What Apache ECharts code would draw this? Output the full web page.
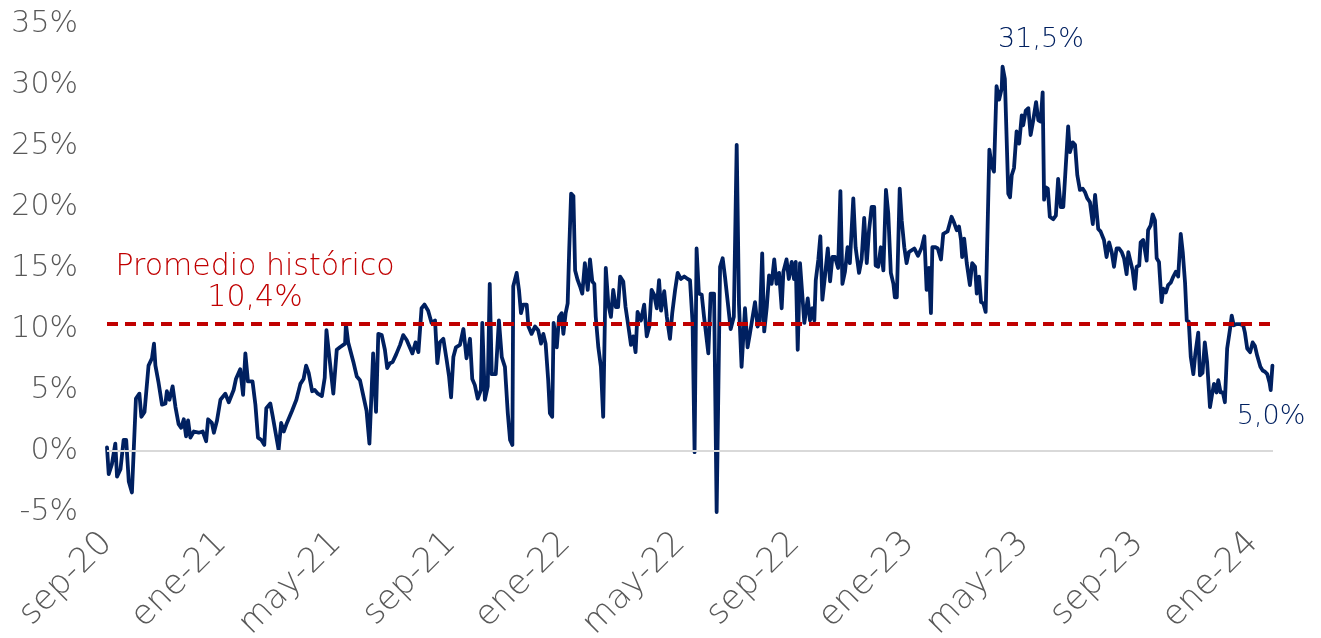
<!DOCTYPE html>
<html><head><meta charset="utf-8">
<script src="https://cdn.jsdelivr.net/npm/echarts@6/dist/echarts.min.js"></script>
<style>html,body{margin:0;padding:0;background:#fff}#c{width:1321px;height:638px}</style>
</head><body><div id="c"></div>
<script>
// x tick labels every 4 months starting sep-20
const tickLabels = ['sep-20','ene-21','may-21','sep-21','ene-22','may-22','sep-22','ene-23','may-23','sep-23','ene-24'];
// time in months since 1-sep-2020
const months = [
0.00,0.06,0.17,0.29,0.35,0.47,0.58,0.67,0.76,0.87,
0.93,1.01,1.13,1.20,1.31,1.45,1.57,1.64,1.69,1.80,
1.92,2.04,2.09,2.18,2.29,2.39,2.50,2.59,2.68,2.76,
2.83,2.91,3.03,3.20,3.34,3.46,3.53,3.66,3.73,3.84,
3.96,4.13,4.25,4.42,4.50,4.65,4.75,4.83,4.92,5.08,
5.18,5.27,5.39,5.49,5.56,5.70,5.78,5.99,6.08,6.17,
6.28,6.46,6.61,6.75,6.86,6.95,7.04,7.16,7.25,7.36,
7.50,7.60,7.66,
7.90,8.02,8.13,8.31,8.34,8.42,8.60,8.72,8.83,9.06,
9.16,9.29,9.39,9.47,9.59,9.70,9.78,9.88,9.97,10.09,
10.23,10.34,10.46,10.66,10.77,10.87,10.98,11.08,11.21,11.33,
11.45,11.53,11.62,11.74,11.86,11.94,12.01,12.09,12.18,12.32,
12.44,12.55,12.67,12.75,12.84,12.94,13.05,13.10,13.19,13.29,
13.36,13.43,13.57,13.68,13.78,13.89,13.99,14.07,14.15,14.18,
14.30,14.38,14.45,14.53,14.65,14.71,14.82,14.94,15.05,15.15,
15.23,15.31,15.40,15.46,15.54,15.59,15.70,15.78,15.87,15.93,
16.01,16.08,16.13,16.20,16.28,16.34,16.43,16.51,16.59,16.68,
16.78,16.86,16.94,17.01,17.06,17.15,17.24,17.32,17.41,17.50,
17.59,17.67,17.76,17.84,17.91,18.02,18.10,18.20,18.29,18.37,
18.45,18.52,18.64,18.75,18.84,18.93,19.01,19.10,19.19,19.27,
19.34,19.45,19.54,19.65,19.73,19.83,19.92,20.03,20.15,20.27,
20.35,20.44,20.51,20.58,20.66,20.76,20.84,20.99,21.07,21.19,
21.28,21.34,21.40,21.49,21.57,21.77,21.88,21.98,22.06,22.15,
22.27,22.36,22.44,22.62,22.71,22.79,22.87,22.94,23.03,23.11,
23.20,23.29,23.37,23.46,23.55,23.61,23.72,23.80,23.90,23.98,
24.04,24.11,24.19,24.34,24.46,24.54,24.62,24.69,24.74,24.83,
24.90,24.97,25.06,25.16,25.24,25.32,25.41,25.52,25.60,25.67,
25.76,25.85,25.93,26.05,26.13,26.25,26.34,26.43,26.52,26.60,
26.69,26.78,26.83,26.92,27.01,27.10,27.19,27.27,27.36,27.45,
27.50,27.57,27.67,27.74,27.83,27.91,27.99,28.18,28.31,28.44,
28.53,28.61,28.69,28.76,28.81,28.92,29.00,29.11,29.19,29.34,
29.48,29.57,29.66,29.74,29.81,29.85,29.92,30.01,30.12,30.20,
30.30,30.36,30.44,30.51,30.59,30.67,30.80,30.88,30.96,31.05,
31.14,31.23,31.26,31.34,31.46,31.52,31.58,31.66,31.75,31.84,
31.93,31.98,32.07,32.16,32.24,32.33,32.43,32.51,32.59,32.66,
32.71,32.77,32.84,32.91,33.03,33.12,33.20,33.29,33.38,33.55,
33.61,33.71,33.79,33.87,33.96,34.06,34.14,34.22,34.31,34.41,
34.49,34.60,34.68,34.80,34.89,34.98,35.07,35.15,35.24,35.33,
35.42,35.50,35.59,35.65,35.73,35.80,35.88,35.94,36.03,36.08,
36.17,36.29,36.34,36.43,36.50,36.58,36.64,36.72,36.81,36.87,
36.96,37.04,37.13,37.22,37.31,37.39,37.48,37.55,37.63,37.69,
37.76,37.83,37.92,37.99,38.09,38.15,38.24,38.32,38.40,38.50,
38.57,38.64,38.73,38.79,38.87,38.95,39.02,39.10,39.20,39.26,
39.33,39.43,39.55,39.66,39.72,39.80,39.90,39.99,40.07,40.15,
40.26,40.34,40.42,40.50,40.58,40.62,40.68
];
// value in %
const values = [
0.3,-1.9,-1.1,0.6,-2.1,-1.5,0.9,0.9,-2.5,-3.4,
-3.5,4.3,4.7,2.8,3.2,7.0,7.6,8.8,7.0,5.6,
3.8,3.9,4.9,4.2,5.3,3.6,2.2,1.9,2.6,1.2,
2.5,1.1,1.6,1.5,1.6,0.8,2.6,2.3,1.5,2.5,
4.2,4.7,4.0,5.0,5.9,6.7,4.6,8.0,5.7,5.7,
3.8,1.1,0.9,0.5,3.5,3.9,2.9,0.1,2.3,1.6,
2.3,3.3,4.2,5.5,5.9,7.0,6.4,4.9,5.0,4.7,
4.5,6.0,9.9,
4.7,8.3,8.5,8.8,10.4,8.9,7.3,6.1,5.8,3.3,
0.6,8.0,3.2,9.6,9.5,8.3,6.8,7.2,7.3,7.9,
8.7,9.5,9.1,8.0,8.9,8.1,11.7,12.0,11.5,10.5,
10.7,7.2,8.9,9.2,7.4,6.1,4.4,7.7,8.5,8.7,
10.0,7.6,9.2,5.9,5.4,4.3,5.0,10.5,4.2,5.3,
13.7,6.3,6.3,10.7,7.7,6.9,3.1,0.9,0.5,13.5,
14.6,13.2,11.3,12.0,12.0,10.2,9.6,10.2,9.9,8.8,
9.6,8.8,5.8,3.1,2.8,10.5,8.5,11.0,11.3,9.6,
11.3,12.1,16.2,21.1,20.9,14.8,14.0,13.5,12.9,15.4,
13.2,15.7,13.9,13.7,11.0,8.5,6.9,2.8,15.0,12.0,
11.0,13.2,11.8,11.8,14.3,13.9,11.8,10.2,8.7,9.4,
8.1,11.4,10.7,12.0,9.4,10.2,13.2,12.8,11.7,14.0,
11.5,13.1,11.0,9.2,11.3,13.2,14.6,14.1,14.3,14.1,
14.0,10.5,-0.1,16.6,12.9,12.8,11.0,8.0,12.9,12.9,
-5.0,-4.9,15.1,15.8,14.3,10.0,11.0,25.1,12.0,6.9,
11.7,8.5,9.6,12.2,10.2,10.7,16.2,9.8,11.8,14.4,
13.7,15.7,13.7,14.6,11.7,14.7,15.7,14.1,15.5,14.1,
15.5,8.3,15.4,10.5,12.5,10.7,11.7,10.7,14.0,15.7,
17.6,12.4,14.3,16.6,13.9,15.9,15.9,15.0,21.3,13.7,
14.7,16.7,15.4,20.7,16.7,14.6,15.7,19.1,15.4,18.1,
20.0,20.0,15.2,15.1,16.7,14.8,21.4,19.5,14.6,13.7,
12.6,12.6,21.5,18.9,16.7,15.4,16.3,16.6,16.0,16.7,
17.6,13.2,15.0,11.3,16.7,16.7,16.6,15.7,17.8,18.0,
19.2,18.7,18.1,18.4,17.3,15.9,17.4,15.4,13.6,15.4,
15.1,12.9,14.3,12.2,12.1,11.4,24.7,23.4,22.9,29.9,
28.8,29.7,31.5,30.5,21.1,20.8,22.6,23.2,26.2,25.2,
27.5,26.7,27.9,28.1,25.9,27.1,28.6,27.1,27.0,29.4,
20.6,21.6,21.5,19.2,19.0,19.3,22.3,20.0,20.0,26.6,
24.5,25.3,25.1,22.6,21.4,21.5,21.2,20.7,20.4,18.6,
21.0,18.2,18.0,17.3,15.9,17.1,16.3,15.1,16.6,16.6,
16.3,15.8,14.5,16.3,15.5,14.8,13.3,15.1,15.2,17.1,
17.3,15.6,18.1,18.5,19.4,18.9,15.8,15.5,12.2,13.3,
13.0,13.6,13.8,14.3,14.7,14.3,17.8,16.3,13.8,10.7,
10.6,7.7,6.3,8.0,9.7,6.2,6.4,8.9,7.3,3.6,
4.6,5.5,4.8,5.8,4.8,4.8,4.0,8.4,10.0,11.1,
10.3,10.4,10.4,10.3,9.7,8.4,8.1,8.9,8.6,7.8,
6.9,6.6,6.5,6.3,5.6,5.0,7.0
];
const promedio = 10.4;
const promedioText = ['Promedio histórico', '10,4%'];
const peakText = '31,5%';
const lastText = '5,0%';

const FONT = '"DejaVu Sans ExtraLight", "DejaVu Sans"';
const W = 200;
const GRAY = '#595959';
const NAVY = '#002060';
const RED = '#C00000';

const chart = echarts.init(document.getElementById('c'), null, {renderer: 'canvas'});
const seriesData = months.map((m, i) => [m, values[i]]);

chart.setOption({
  animation: false,
  backgroundColor: '#ffffff',
  grid: {left: 107, right: 48, top: 24, bottom: 126, containLabel: false, outerBoundsMode: 'none'},
  xAxis: {
    type: 'value', min: 0, max: 40.7, interval: 4,
    axisLine: {show: false}, axisTick: {show: false}, splitLine: {show: false},
    axisLabel: {
      rotate: 45, margin: 26, fontFamily: FONT, fontWeight: W, fontSize: 34, color: GRAY,
      showMaxLabel: false,
      formatter: v => tickLabels[Math.round(v / 4)] || ''
    }
  },
  yAxis: {
    type: 'value', min: -5, max: 35, interval: 5,
    axisLine: {show: false}, axisTick: {show: false}, splitLine: {show: false},
    axisLabel: {margin: 29, fontFamily: FONT, fontWeight: W, fontSize: 30, color: GRAY, formatter: v => v + '%'}
  },
  series: [
    {
      type: 'line', data: [], z: 1, silent: true,
      markLine: {silent: true, symbol: 'none', label: {show: false},
        lineStyle: {color: '#d9d9d9', width: 2, type: 'solid'},
        data: [{yAxis: 0}]}
    },
    {
      type: 'line', data: seriesData, z: 3, showSymbol: false, symbol: 'none',
      sampling: null, smooth: false,
      lineStyle: {color: NAVY, width: 3.8, join: 'round', cap: 'round'}
    },
    {
      type: 'line', data: [], z: 5, silent: true,
      markLine: {silent: true, symbol: 'none', label: {show: false},
        lineStyle: {color: RED, width: 4, type: [11, 7]},
        data: [{yAxis: promedio}]}
    }
  ],
  graphic: [
    {type: 'text', x: 255, y: 267, style: {text: promedioText[0], fill: RED, font: W + ' 30px ' + FONT, textAlign: 'center', textVerticalAlign: 'middle'}},
    {type: 'text', x: 255, y: 298, style: {text: promedioText[1], fill: RED, font: W + ' 30px ' + FONT, textAlign: 'center', textVerticalAlign: 'middle'}},
    {type: 'text', x: 1041, y: 40, style: {text: peakText, fill: NAVY, font: W + ' 27px ' + FONT, textAlign: 'center', textVerticalAlign: 'middle'}},
    {type: 'text', x: 1271, y: 417, style: {text: lastText, fill: NAVY, font: W + ' 27px ' + FONT, textAlign: 'center', textVerticalAlign: 'middle'}}
  ]
});
</script>
</body></html>
